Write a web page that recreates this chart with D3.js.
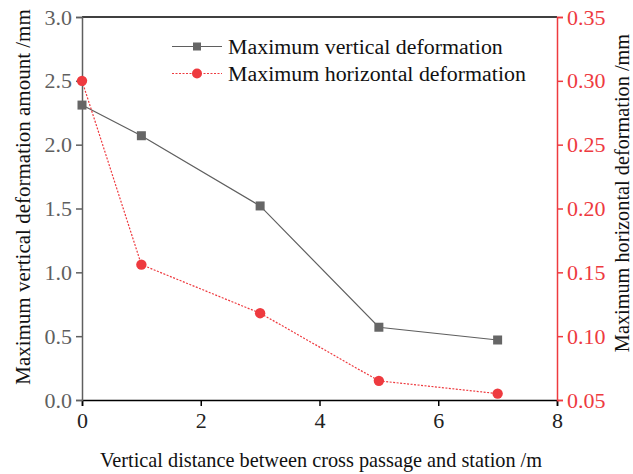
<!DOCTYPE html>
<html>
<head>
<meta charset="utf-8">
<script src="https://cdn.jsdelivr.net/npm/d3@7"></script>
<style>
  body { margin: 0; background: #fff; }
  svg text { font-family: "Liberation Serif", "Times New Roman", Times, "DejaVu Serif", serif !important; }
</style>
</head>
<body>
<svg id="chart" width="633" height="474"></svg>
<script>
const distances = [0, 1, 3, 5, 7];
const verticalDeform = [2.31, 2.07, 1.52, 0.57, 0.47];
const horizontalDeform = [0.300, 0.156, 0.118, 0.065, 0.055];
const xTicks = [0, 2, 4, 6, 8];
const leftTicks = [0, 0.5, 1.0, 1.5, 2.0, 2.5, 3.0];
const rightTicks = [0.05, 0.10, 0.15, 0.20, 0.25, 0.30, 0.35];

const gray = '#5f5f5f';
const red = '#ee3a3f';

const margin = { left: 82, right: 76, top: 17, bottom: 74 };
const width = 633, height = 474;
const svg = d3.select('#chart');

const x = d3.scaleLinear().domain([0, 8]).range([margin.left, width - margin.right]);
const yL = d3.scaleLinear().domain([0, 3]).range([height - margin.bottom, margin.top]);
const yR = d3.scaleLinear().domain([0.05, 0.35]).range([height - margin.bottom, margin.top]);

const x0 = margin.left, x1 = width - margin.right;
const y0 = height - margin.bottom, y1 = margin.top;

// top border
svg.append('line').attr('x1', x0).attr('x2', x1).attr('y1', y1).attr('y2', y1)
  .attr('stroke', '#000').attr('stroke-width', 1.5);

// bottom axis
const xAxis = svg.append('g').attr('transform', `translate(0,${y0})`);
xAxis.call(d3.axisBottom(x).tickValues(d3.range(0, 8.01, 1)).tickSize(5).tickFormat(''))
  .call(g => g.select('.domain').remove());
xAxis.call(d3.axisBottom(x).tickValues(xTicks).tickSize(6).tickPadding(6).tickFormat(d3.format('d')));
xAxis.selectAll('line, path').attr('stroke', '#000').attr('stroke-width', 1.5);
xAxis.selectAll('text').attr('font-size', 22).attr('fill', '#222');

// left axis
const lAxis = svg.append('g').attr('transform', `translate(${x0},0)`);
lAxis.call(d3.axisLeft(yL).tickValues(d3.range(0, 3.01, 0.25)).tickSize(4).tickFormat(''))
  .call(g => g.select('.domain').remove());
lAxis.call(d3.axisLeft(yL).tickValues(leftTicks).tickSize(6).tickPadding(4).tickFormat(d3.format('.1f')));
lAxis.selectAll('line, path').attr('stroke', gray).attr('stroke-width', 1.5);
lAxis.selectAll('text').attr('font-size', 22).attr('fill', gray);

// right axis
const rAxis = svg.append('g').attr('transform', `translate(${x1},0)`);
rAxis.call(d3.axisRight(yR).tickValues(d3.range(0.05, 0.3501, 0.025)).tickSize(4).tickFormat(''))
  .call(g => g.select('.domain').remove());
rAxis.call(d3.axisRight(yR).tickValues(rightTicks).tickSize(6).tickPadding(4).tickFormat(d3.format('.2f')));
rAxis.selectAll('line, path').attr('stroke', red).attr('stroke-width', 1.5);
rAxis.selectAll('text').attr('font-size', 22).attr('fill', red);

// series
const vData = distances.map((d, i) => [d, verticalDeform[i]]);
const hData = distances.map((d, i) => [d, horizontalDeform[i]]);

svg.append('path').datum(vData)
  .attr('fill', 'none').attr('stroke', gray).attr('stroke-width', 1.2)
  .attr('d', d3.line().x(d => x(d[0])).y(d => yL(d[1])));
svg.append('path').datum(hData)
  .attr('fill', 'none').attr('stroke', red).attr('stroke-width', 1.2).attr('stroke-dasharray', '2,1.5')
  .attr('d', d3.line().x(d => x(d[0])).y(d => yR(d[1])));

svg.selectAll('rect.vpt').data(vData).join('rect').attr('class', 'vpt')
  .attr('x', d => x(d[0]) - 4.5).attr('y', d => yL(d[1]) - 4.5)
  .attr('width', 9).attr('height', 9).attr('fill', '#666');
svg.selectAll('circle.hpt').data(hData).join('circle').attr('class', 'hpt')
  .attr('cx', d => x(d[0])).attr('cy', d => yR(d[1])).attr('r', 5.2).attr('fill', red);

// legend
const legend = svg.append('g');
const legItems = [
  { label: 'Maximum vertical deformation', color: gray, dash: null, shape: 'rect' },
  { label: 'Maximum horizontal deformation', color: red, dash: '2,1.5', shape: 'circle' }
];
legItems.forEach((it, i) => {
  const ly = 46.5 + i * 27;
  legend.append('line').attr('x1', 172).attr('x2', 222).attr('y1', ly).attr('y2', ly)
    .attr('stroke', it.color).attr('stroke-width', 1.2).attr('stroke-dasharray', it.dash);
  if (it.shape === 'rect') {
    legend.append('rect').attr('x', 193).attr('y', ly - 4).attr('width', 8).attr('height', 8).attr('fill', '#666');
  } else {
    legend.append('circle').attr('cx', 197).attr('cy', ly).attr('r', 5).attr('fill', it.color);
  }
  legend.append('text').attr('x', 228).attr('y', ly + 7).attr('font-size', 21.9).attr('fill', '#111')
    .text(it.label);
});

// axis titles
svg.append('text').attr('x', 321).attr('y', 467).attr('text-anchor', 'middle')
  .attr('font-size', 20.3).attr('fill', '#111')
  .text('Vertical distance between cross passage and station /m');
svg.append('text').attr('transform', 'translate(30,197) rotate(-90)')
  .attr('text-anchor', 'middle').attr('font-size', 21).attr('fill', '#111')
  .text('Maximum vertical deformation amount /mm');
svg.append('text').attr('transform', 'translate(628.5,193) rotate(-90)')
  .attr('text-anchor', 'middle').attr('font-size', 20.3).attr('fill', '#111')
  .text('Maximum horizontal deformation /mm');
</script>
</body>
</html>
